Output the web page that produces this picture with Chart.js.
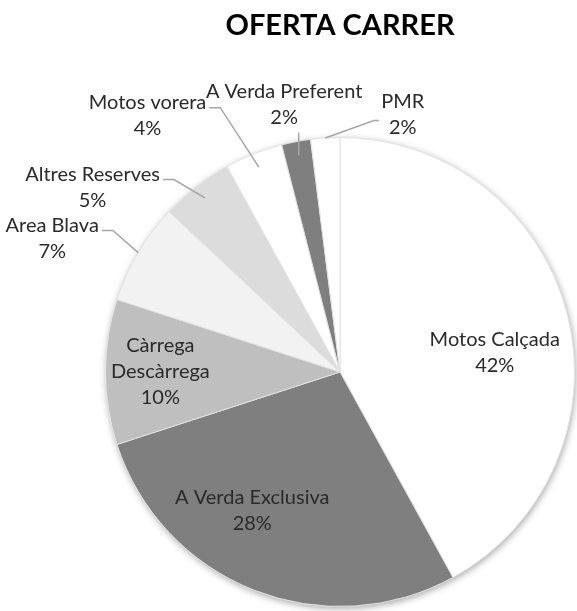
<!DOCTYPE html>
<html>
<head>
<meta charset="utf-8">
<title>Oferta carrer</title>
<script src="https://cdn.jsdelivr.net/npm/chart.js@4.4.1/dist/chart.umd.min.js"></script>
<style>
  html, body { margin: 0; padding: 0; background: #fff; }
  #wrap { width: 577px; height: 611px; position: relative; }
</style>
</head>
<body>
<div id="wrap"><canvas id="pie"></canvas></div>
<script>
const titleText = "OFERTA CARRER";
const categories = ["Motos Calçada", "A Verda Exclusiva", "Càrrega Descàrrega", "Area Blava",
                    "Altres Reserves", "Motos vorera", "A Verda Preferent", "PMR"];
const shares = [42, 28, 10, 7, 5, 4, 2, 2];
const fills = ["#ffffff", "#7f7f7f", "#bfbfbf", "#f2f2f2", "#dcdcdc", "#ffffff", "#7f7f7f", "#ffffff"];

// where each label sits: f = distance as a fraction of the radius, da = angle nudge (deg)
const labelLayout = [
  { f: 0.665, da: 7.4 },
  { f: 0.70, da: 10.7 },
  { f: 0.766, da: 0.3, wrap: true },
  { f: 1.353, da: -5.7, leader: "right", tip: 1.0 },
  { f: 1.316, da: -15.5, leader: "right", tip: 0.94 },
  { f: 1.367, da: -15.3, leader: "right", tip: 0.94 },
  { f: 1.165, da: -1, leader: "bottom", tip: 0.94 },
  { f: 1.13, da: 17.3, leader: "left", tip: 1.0 }
];

const labelFont = "20px Lato";
const lineH = 26;

const pieDecor = {
  id: "pieDecor",
  beforeDatasetsDraw(chart) {
    // soft shadow round the pie edge
    const arc = chart.getDatasetMeta(0).data[0];
    const ctx = chart.ctx;
    ctx.save();
    ctx.shadowColor = "rgba(0,0,0,0.35)";
    ctx.shadowBlur = 7;
    ctx.shadowOffsetX = 1;
    ctx.shadowOffsetY = 2;
    ctx.fillStyle = "#ffffff";
    ctx.beginPath();
    ctx.arc(arc.x, arc.y, arc.outerRadius, 0, Math.PI * 2);
    ctx.fill();
    ctx.restore();
  },
  afterDatasetsDraw(chart) {
    const ctx = chart.ctx;
    const meta = chart.getDatasetMeta(0);
    ctx.save();

    // title
    const a0 = meta.data[0];
    ctx.font = "bold 29px Lato";
    ctx.fillStyle = "#000";
    ctx.textAlign = "center";
    ctx.textBaseline = "alphabetic";
    ctx.fillText(titleText, a0.x, 35);

    ctx.font = labelFont;
    ctx.textBaseline = "middle";
    meta.data.forEach((arc, i) => {
      const lay = labelLayout[i];
      const mid = (arc.startAngle + arc.endAngle) / 2;
      const ang = mid + lay.da * Math.PI / 180;
      const r = arc.outerRadius;
      const cx = arc.x + r * lay.f * Math.cos(ang);
      const cy = arc.y + r * lay.f * Math.sin(ang);

      const name = categories[i];
      const lines = lay.wrap ? name.split(" ") : [name];
      lines.push(shares[i] + "%");
      const n = lines.length;

      ctx.fillStyle = "#2a2a2a";
      lines.forEach((t, k) => {
        ctx.fillText(t, cx, cy + (k - (n - 1) / 2) * lineH);
      });

      if (lay.leader) {
        const ex = arc.x + r * lay.tip * Math.cos(mid);
        const ey = arc.y + r * lay.tip * Math.sin(mid);
        const firstY = cy - (n - 1) / 2 * lineH;
        const lastY = cy + (n - 1) / 2 * lineH;
        ctx.strokeStyle = "#a6a6a6";
        ctx.lineWidth = 1.5;
        ctx.beginPath();
        if (lay.leader === "right") {
          const sx = cx + ctx.measureText(lines[0]).width / 2 + 3;
          const sy = firstY + 5;
          ctx.moveTo(sx, sy);
          ctx.lineTo(sx + 11, sy);
        } else if (lay.leader === "left") {
          const sx = cx - ctx.measureText(lines[n - 1]).width / 2 - 10;
          const sy = lastY - 7;
          ctx.moveTo(sx, sy);
          ctx.lineTo(sx - 5, sy);
        } else {
          ctx.moveTo(ex, lastY + 15);
        }
        ctx.lineTo(ex, ey);
        ctx.stroke();
      }
    });
    ctx.restore();
  }
};

new Chart(document.getElementById("pie"), {
  type: "pie",
  data: {
    labels: categories,
    datasets: [{
      data: shares,
      backgroundColor: fills,
      borderColor: "#e2e2e2",
      borderWidth: 1
    }]
  },
  options: {
    responsive: true,
    maintainAspectRatio: false,
    animation: false,
    layout: { padding: { left: 105, right: 2, top: 137, bottom: 4 } },
    plugins: {
      legend: { display: false },
      title: { display: false },
      tooltip: { enabled: false }
    }
  },
  plugins: [pieDecor]
});
</script>
</body>
</html>
